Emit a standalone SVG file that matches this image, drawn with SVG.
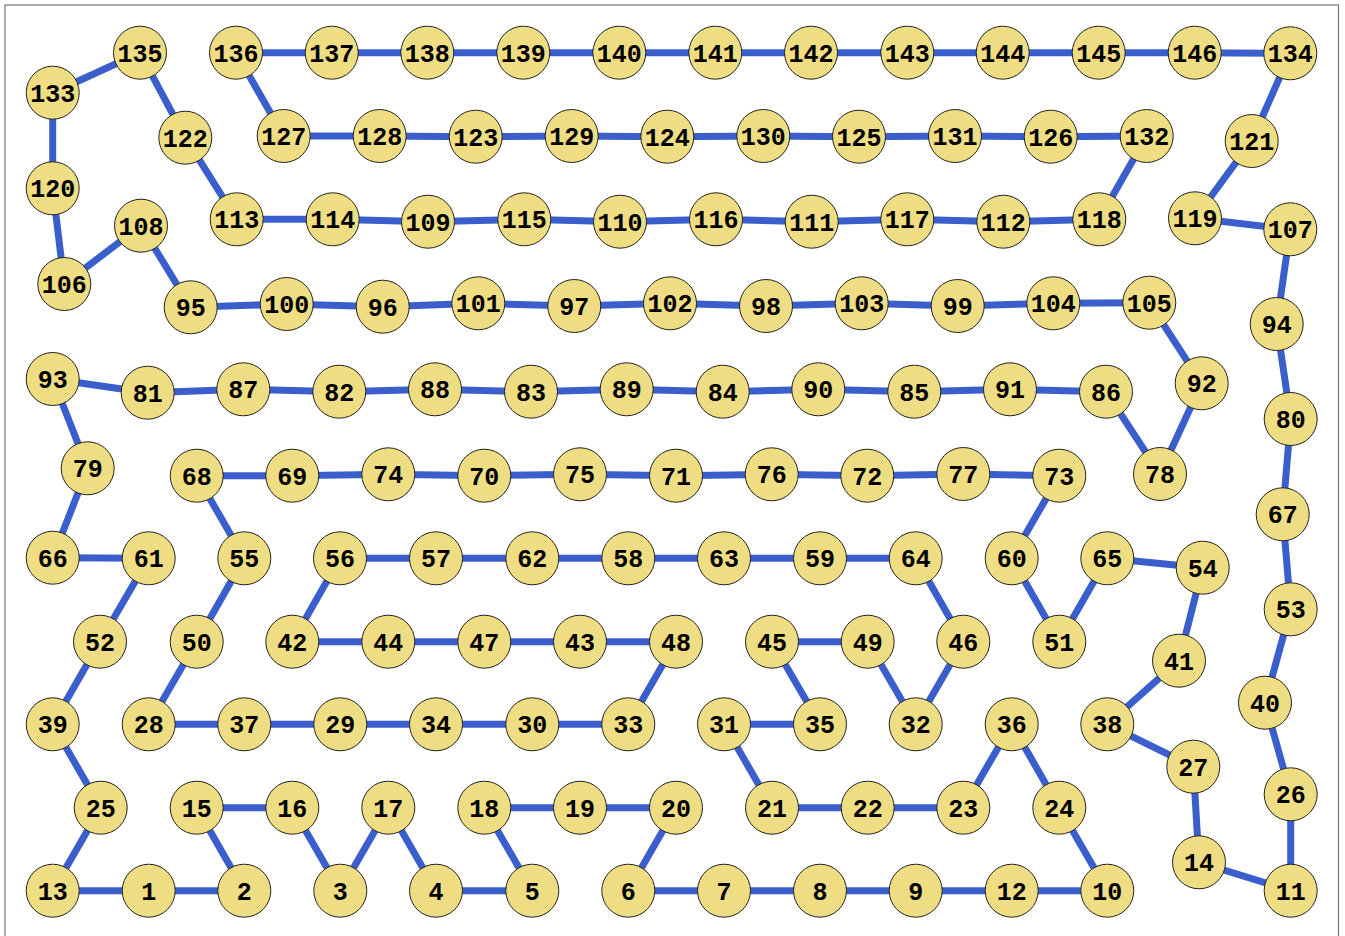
<svg xmlns="http://www.w3.org/2000/svg" width="1345" height="936" viewBox="0 0 1345 936">
<style>
.e line{stroke:#3a5fcd;stroke-width:7;stroke-linecap:butt}
.n circle{fill:#eedd82;stroke:#222;stroke-width:1}
.n text{font-family:"Liberation Mono","DejaVu Sans Mono",monospace;font-weight:bold;font-size:25px;fill:#000;text-anchor:middle;transform:translateY(1px)}
</style>
<rect x="0" y="0" width="1345" height="936" fill="#fff"/>
<rect x="5" y="5" width="1333.5" height="940" fill="none" stroke="#777" stroke-width="1.2"/>
<g id="connectors" class="e">
<line x1="236" y1="52.7" x2="331.7" y2="52.7"/>
<line x1="331.7" y1="52.7" x2="427.3" y2="52.7"/>
<line x1="427.3" y1="52.7" x2="523.3" y2="52.7"/>
<line x1="523.3" y1="52.7" x2="619.3" y2="52.7"/>
<line x1="619.3" y1="52.7" x2="715.3" y2="52.7"/>
<line x1="715.3" y1="52.7" x2="811" y2="52.7"/>
<line x1="811" y1="52.7" x2="907.3" y2="52.7"/>
<line x1="907.3" y1="52.7" x2="1002.7" y2="52.7"/>
<line x1="1002.7" y1="52.7" x2="1098.7" y2="52.7"/>
<line x1="1098.7" y1="52.7" x2="1194.7" y2="52.7"/>
<line x1="1194.7" y1="52.7" x2="1290.3" y2="53.3"/>
<line x1="1290.3" y1="53.3" x2="1251.7" y2="141"/>
<line x1="1251.7" y1="141" x2="1195" y2="218.3"/>
<line x1="1195" y1="218.3" x2="1290.3" y2="229.3"/>
<line x1="1290.3" y1="229.3" x2="1276.7" y2="324"/>
<line x1="1276.7" y1="324" x2="1290.7" y2="419"/>
<line x1="1290.7" y1="419" x2="1282.7" y2="514.3"/>
<line x1="1282.7" y1="514.3" x2="1290.7" y2="609.3"/>
<line x1="1290.7" y1="609.3" x2="1265" y2="702.7"/>
<line x1="1265" y1="702.7" x2="1290.7" y2="794.3"/>
<line x1="1290.7" y1="794.3" x2="1290.7" y2="890.7"/>
<line x1="1290.7" y1="890.7" x2="1199" y2="862.3"/>
<line x1="1199" y1="862.3" x2="1193.3" y2="766.7"/>
<line x1="1193.3" y1="766.7" x2="1107.3" y2="724.3"/>
<line x1="1107.3" y1="724.3" x2="1179" y2="660.7"/>
<line x1="1179" y1="660.7" x2="1202.7" y2="567.7"/>
<line x1="1202.7" y1="567.7" x2="1107.3" y2="558.3"/>
<line x1="1107.3" y1="558.3" x2="1059.3" y2="641.7"/>
<line x1="1059.3" y1="641.7" x2="1011.7" y2="558.3"/>
<line x1="1011.7" y1="558.3" x2="1059.3" y2="475.7"/>
<line x1="1059.3" y1="475.7" x2="963.3" y2="474"/>
<line x1="963.3" y1="474" x2="867.3" y2="475.7"/>
<line x1="867.3" y1="475.7" x2="771.7" y2="474.3"/>
<line x1="771.7" y1="474.3" x2="676" y2="475.7"/>
<line x1="676" y1="475.7" x2="580" y2="474.3"/>
<line x1="580" y1="474.3" x2="484.3" y2="475.7"/>
<line x1="484.3" y1="475.7" x2="388.3" y2="474.3"/>
<line x1="388.3" y1="474.3" x2="292.3" y2="475.7"/>
<line x1="292.3" y1="475.7" x2="196.7" y2="475.7"/>
<line x1="196.7" y1="475.7" x2="244.3" y2="558.3"/>
<line x1="244.3" y1="558.3" x2="196.7" y2="641.7"/>
<line x1="196.7" y1="641.7" x2="148.7" y2="724.3"/>
<line x1="148.7" y1="724.3" x2="244.3" y2="724.3"/>
<line x1="244.3" y1="724.3" x2="340.3" y2="724.3"/>
<line x1="340.3" y1="724.3" x2="436" y2="724.3"/>
<line x1="436" y1="724.3" x2="532.3" y2="724.3"/>
<line x1="532.3" y1="724.3" x2="628.3" y2="724.3"/>
<line x1="628.3" y1="724.3" x2="676" y2="641.7"/>
<line x1="676" y1="641.7" x2="580" y2="641.7"/>
<line x1="580" y1="641.7" x2="484.3" y2="641.7"/>
<line x1="484.3" y1="641.7" x2="388.3" y2="641.7"/>
<line x1="388.3" y1="641.7" x2="292.3" y2="641.7"/>
<line x1="292.3" y1="641.7" x2="340" y2="558.3"/>
<line x1="340" y1="558.3" x2="436" y2="558.3"/>
<line x1="436" y1="558.3" x2="532.3" y2="558.3"/>
<line x1="532.3" y1="558.3" x2="628.3" y2="558.3"/>
<line x1="628.3" y1="558.3" x2="724" y2="558.3"/>
<line x1="724" y1="558.3" x2="820" y2="558.3"/>
<line x1="820" y1="558.3" x2="915.7" y2="558.3"/>
<line x1="915.7" y1="558.3" x2="963.3" y2="641.7"/>
<line x1="963.3" y1="641.7" x2="915.7" y2="724.3"/>
<line x1="915.7" y1="724.3" x2="867.7" y2="641.7"/>
<line x1="867.7" y1="641.7" x2="772" y2="641.7"/>
<line x1="772" y1="641.7" x2="820" y2="724.3"/>
<line x1="820" y1="724.3" x2="724" y2="724.3"/>
<line x1="724" y1="724.3" x2="772" y2="807.7"/>
<line x1="772" y1="807.7" x2="867.7" y2="807.7"/>
<line x1="867.7" y1="807.7" x2="963.3" y2="807.7"/>
<line x1="963.3" y1="807.7" x2="1011.7" y2="724.3"/>
<line x1="1011.7" y1="724.3" x2="1059.3" y2="807.7"/>
<line x1="1059.3" y1="807.7" x2="1107.3" y2="890.7"/>
<line x1="1107.3" y1="890.7" x2="1011.7" y2="890.7"/>
<line x1="1011.7" y1="890.7" x2="915.7" y2="890.7"/>
<line x1="915.7" y1="890.7" x2="820" y2="890.7"/>
<line x1="820" y1="890.7" x2="724" y2="890.7"/>
<line x1="724" y1="890.7" x2="628.3" y2="890.7"/>
<line x1="628.3" y1="890.7" x2="676" y2="807.7"/>
<line x1="676" y1="807.7" x2="580" y2="807.7"/>
<line x1="580" y1="807.7" x2="484.3" y2="807.7"/>
<line x1="484.3" y1="807.7" x2="532.3" y2="890.7"/>
<line x1="532.3" y1="890.7" x2="436" y2="890.7"/>
<line x1="436" y1="890.7" x2="388.3" y2="807.7"/>
<line x1="388.3" y1="807.7" x2="340.3" y2="890.7"/>
<line x1="340.3" y1="890.7" x2="292.3" y2="807.7"/>
<line x1="292.3" y1="807.7" x2="196.7" y2="807.7"/>
<line x1="196.7" y1="807.7" x2="244.3" y2="890.7"/>
<line x1="244.3" y1="890.7" x2="148.7" y2="890.7"/>
<line x1="148.7" y1="890.7" x2="52.7" y2="890.7"/>
<line x1="52.7" y1="890.7" x2="100.7" y2="807.7"/>
<line x1="100.7" y1="807.7" x2="52.7" y2="724.3"/>
<line x1="52.7" y1="724.3" x2="100" y2="641.7"/>
<line x1="100" y1="641.7" x2="148.7" y2="558.3"/>
<line x1="148.7" y1="558.3" x2="52.7" y2="557.7"/>
<line x1="52.7" y1="557.7" x2="87.7" y2="468.3"/>
<line x1="87.7" y1="468.3" x2="52.7" y2="379"/>
<line x1="52.7" y1="379" x2="147.7" y2="392.7"/>
<line x1="147.7" y1="392.7" x2="243.3" y2="389.3"/>
<line x1="243.3" y1="389.3" x2="339.3" y2="391.7"/>
<line x1="339.3" y1="391.7" x2="435" y2="389.3"/>
<line x1="435" y1="389.3" x2="531" y2="391.7"/>
<line x1="531" y1="391.7" x2="626.7" y2="389.3"/>
<line x1="626.7" y1="389.3" x2="722.7" y2="391.7"/>
<line x1="722.7" y1="391.7" x2="818.3" y2="389.3"/>
<line x1="818.3" y1="389.3" x2="914.3" y2="391.7"/>
<line x1="914.3" y1="391.7" x2="1010" y2="389.3"/>
<line x1="1010" y1="389.3" x2="1106" y2="391.7"/>
<line x1="1106" y1="391.7" x2="1160" y2="474"/>
<line x1="1160" y1="474" x2="1201.7" y2="383.3"/>
<line x1="1201.7" y1="383.3" x2="1149.3" y2="302.7"/>
<line x1="1149.3" y1="302.7" x2="1053.3" y2="303.3"/>
<line x1="1053.3" y1="303.3" x2="957.7" y2="306"/>
<line x1="957.7" y1="306" x2="861.7" y2="303.3"/>
<line x1="861.7" y1="303.3" x2="766" y2="306"/>
<line x1="766" y1="306" x2="670" y2="303.3"/>
<line x1="670" y1="303.3" x2="574.3" y2="306"/>
<line x1="574.3" y1="306" x2="478.3" y2="303.3"/>
<line x1="478.3" y1="303.3" x2="382.7" y2="306.7"/>
<line x1="382.7" y1="306.7" x2="286.7" y2="304"/>
<line x1="286.7" y1="304" x2="190.7" y2="307.3"/>
<line x1="190.7" y1="307.3" x2="141" y2="225.7"/>
<line x1="141" y1="225.7" x2="64.3" y2="284"/>
<line x1="64.3" y1="284" x2="52.7" y2="188.3"/>
<line x1="52.7" y1="188.3" x2="52.7" y2="92.7"/>
<line x1="52.7" y1="92.7" x2="140" y2="52.7"/>
<line x1="140" y1="52.7" x2="185.3" y2="137.7"/>
<line x1="185.3" y1="137.7" x2="236.7" y2="219.3"/>
<line x1="236.7" y1="219.3" x2="332.7" y2="219.3"/>
<line x1="332.7" y1="219.3" x2="428" y2="221.7"/>
<line x1="428" y1="221.7" x2="524.3" y2="219.3"/>
<line x1="524.3" y1="219.3" x2="620" y2="221.7"/>
<line x1="620" y1="221.7" x2="716" y2="219.3"/>
<line x1="716" y1="219.3" x2="811.7" y2="221.7"/>
<line x1="811.7" y1="221.7" x2="907.3" y2="219.3"/>
<line x1="907.3" y1="219.3" x2="1003.3" y2="221.7"/>
<line x1="1003.3" y1="221.7" x2="1099.3" y2="219.3"/>
<line x1="1099.3" y1="219.3" x2="1146.7" y2="136"/>
<line x1="1146.7" y1="136" x2="1050.7" y2="136.7"/>
<line x1="1050.7" y1="136.7" x2="955" y2="136"/>
<line x1="955" y1="136" x2="859" y2="136.7"/>
<line x1="859" y1="136.7" x2="763.3" y2="136"/>
<line x1="763.3" y1="136" x2="667.3" y2="136.7"/>
<line x1="667.3" y1="136.7" x2="571.7" y2="136"/>
<line x1="571.7" y1="136" x2="475.7" y2="136.7"/>
<line x1="475.7" y1="136.7" x2="379.7" y2="136"/>
<line x1="379.7" y1="136" x2="283.7" y2="136"/>
<line x1="283.7" y1="136" x2="236" y2="52.7"/>
</g>
<g id="nodes" class="n">
<g id="n1"><circle cx="148.7" cy="890.7" r="26.5"/><text x="148.7" y="898.7">1</text></g>
<g id="n2"><circle cx="244.3" cy="890.7" r="26.5"/><text x="244.3" y="898.7">2</text></g>
<g id="n3"><circle cx="340.3" cy="890.7" r="26.5"/><text x="340.3" y="898.7">3</text></g>
<g id="n4"><circle cx="436" cy="890.7" r="26.5"/><text x="436" y="898.7">4</text></g>
<g id="n5"><circle cx="532.3" cy="890.7" r="26.5"/><text x="532.3" y="898.7">5</text></g>
<g id="n6"><circle cx="628.3" cy="890.7" r="26.5"/><text x="628.3" y="898.7">6</text></g>
<g id="n7"><circle cx="724" cy="890.7" r="26.5"/><text x="724" y="898.7">7</text></g>
<g id="n8"><circle cx="820" cy="890.7" r="26.5"/><text x="820" y="898.7">8</text></g>
<g id="n9"><circle cx="915.7" cy="890.7" r="26.5"/><text x="915.7" y="898.7">9</text></g>
<g id="n10"><circle cx="1107.3" cy="890.7" r="26.5"/><text x="1107.3" y="898.7">10</text></g>
<g id="n11"><circle cx="1290.7" cy="890.7" r="26.5"/><text x="1290.7" y="898.7">11</text></g>
<g id="n12"><circle cx="1011.7" cy="890.7" r="26.5"/><text x="1011.7" y="898.7">12</text></g>
<g id="n13"><circle cx="52.7" cy="890.7" r="26.5"/><text x="52.7" y="898.7">13</text></g>
<g id="n14"><circle cx="1199" cy="862.3" r="26.5"/><text x="1199" y="870.3">14</text></g>
<g id="n15"><circle cx="196.7" cy="807.7" r="26.5"/><text x="196.7" y="815.7">15</text></g>
<g id="n16"><circle cx="292.3" cy="807.7" r="26.5"/><text x="292.3" y="815.7">16</text></g>
<g id="n17"><circle cx="388.3" cy="807.7" r="26.5"/><text x="388.3" y="815.7">17</text></g>
<g id="n18"><circle cx="484.3" cy="807.7" r="26.5"/><text x="484.3" y="815.7">18</text></g>
<g id="n19"><circle cx="580" cy="807.7" r="26.5"/><text x="580" y="815.7">19</text></g>
<g id="n20"><circle cx="676" cy="807.7" r="26.5"/><text x="676" y="815.7">20</text></g>
<g id="n21"><circle cx="772" cy="807.7" r="26.5"/><text x="772" y="815.7">21</text></g>
<g id="n22"><circle cx="867.7" cy="807.7" r="26.5"/><text x="867.7" y="815.7">22</text></g>
<g id="n23"><circle cx="963.3" cy="807.7" r="26.5"/><text x="963.3" y="815.7">23</text></g>
<g id="n24"><circle cx="1059.3" cy="807.7" r="26.5"/><text x="1059.3" y="815.7">24</text></g>
<g id="n25"><circle cx="100.7" cy="807.7" r="26.5"/><text x="100.7" y="815.7">25</text></g>
<g id="n26"><circle cx="1290.7" cy="794.3" r="26.5"/><text x="1290.7" y="802.3">26</text></g>
<g id="n27"><circle cx="1193.3" cy="766.7" r="26.5"/><text x="1193.3" y="774.7">27</text></g>
<g id="n28"><circle cx="148.7" cy="724.3" r="26.5"/><text x="148.7" y="732.3">28</text></g>
<g id="n29"><circle cx="340.3" cy="724.3" r="26.5"/><text x="340.3" y="732.3">29</text></g>
<g id="n30"><circle cx="532.3" cy="724.3" r="26.5"/><text x="532.3" y="732.3">30</text></g>
<g id="n31"><circle cx="724" cy="724.3" r="26.5"/><text x="724" y="732.3">31</text></g>
<g id="n32"><circle cx="915.7" cy="724.3" r="26.5"/><text x="915.7" y="732.3">32</text></g>
<g id="n33"><circle cx="628.3" cy="724.3" r="26.5"/><text x="628.3" y="732.3">33</text></g>
<g id="n34"><circle cx="436" cy="724.3" r="26.5"/><text x="436" y="732.3">34</text></g>
<g id="n35"><circle cx="820" cy="724.3" r="26.5"/><text x="820" y="732.3">35</text></g>
<g id="n36"><circle cx="1011.7" cy="724.3" r="26.5"/><text x="1011.7" y="732.3">36</text></g>
<g id="n37"><circle cx="244.3" cy="724.3" r="26.5"/><text x="244.3" y="732.3">37</text></g>
<g id="n38"><circle cx="1107.3" cy="724.3" r="26.5"/><text x="1107.3" y="732.3">38</text></g>
<g id="n39"><circle cx="52.7" cy="724.3" r="26.5"/><text x="52.7" y="732.3">39</text></g>
<g id="n40"><circle cx="1265" cy="702.7" r="26.5"/><text x="1265" y="710.7">40</text></g>
<g id="n41"><circle cx="1179" cy="660.7" r="26.5"/><text x="1179" y="668.7">41</text></g>
<g id="n42"><circle cx="292.3" cy="641.7" r="26.5"/><text x="292.3" y="649.7">42</text></g>
<g id="n43"><circle cx="580" cy="641.7" r="26.5"/><text x="580" y="649.7">43</text></g>
<g id="n44"><circle cx="388.3" cy="641.7" r="26.5"/><text x="388.3" y="649.7">44</text></g>
<g id="n45"><circle cx="772" cy="641.7" r="26.5"/><text x="772" y="649.7">45</text></g>
<g id="n46"><circle cx="963.3" cy="641.7" r="26.5"/><text x="963.3" y="649.7">46</text></g>
<g id="n47"><circle cx="484.3" cy="641.7" r="26.5"/><text x="484.3" y="649.7">47</text></g>
<g id="n48"><circle cx="676" cy="641.7" r="26.5"/><text x="676" y="649.7">48</text></g>
<g id="n49"><circle cx="867.7" cy="641.7" r="26.5"/><text x="867.7" y="649.7">49</text></g>
<g id="n50"><circle cx="196.7" cy="641.7" r="26.5"/><text x="196.7" y="649.7">50</text></g>
<g id="n51"><circle cx="1059.3" cy="641.7" r="26.5"/><text x="1059.3" y="649.7">51</text></g>
<g id="n52"><circle cx="100" cy="641.7" r="26.5"/><text x="100" y="649.7">52</text></g>
<g id="n53"><circle cx="1290.7" cy="609.3" r="26.5"/><text x="1290.7" y="617.3">53</text></g>
<g id="n54"><circle cx="1202.7" cy="567.7" r="26.5"/><text x="1202.7" y="575.7">54</text></g>
<g id="n55"><circle cx="244.3" cy="558.3" r="26.5"/><text x="244.3" y="566.3">55</text></g>
<g id="n56"><circle cx="340" cy="558.3" r="26.5"/><text x="340" y="566.3">56</text></g>
<g id="n57"><circle cx="436" cy="558.3" r="26.5"/><text x="436" y="566.3">57</text></g>
<g id="n58"><circle cx="628.3" cy="558.3" r="26.5"/><text x="628.3" y="566.3">58</text></g>
<g id="n59"><circle cx="820" cy="558.3" r="26.5"/><text x="820" y="566.3">59</text></g>
<g id="n60"><circle cx="1011.7" cy="558.3" r="26.5"/><text x="1011.7" y="566.3">60</text></g>
<g id="n61"><circle cx="148.7" cy="558.3" r="26.5"/><text x="148.7" y="566.3">61</text></g>
<g id="n62"><circle cx="532.3" cy="558.3" r="26.5"/><text x="532.3" y="566.3">62</text></g>
<g id="n63"><circle cx="724" cy="558.3" r="26.5"/><text x="724" y="566.3">63</text></g>
<g id="n64"><circle cx="915.7" cy="558.3" r="26.5"/><text x="915.7" y="566.3">64</text></g>
<g id="n65"><circle cx="1107.3" cy="558.3" r="26.5"/><text x="1107.3" y="566.3">65</text></g>
<g id="n66"><circle cx="52.7" cy="557.7" r="26.5"/><text x="52.7" y="565.7">66</text></g>
<g id="n67"><circle cx="1282.7" cy="514.3" r="26.5"/><text x="1282.7" y="522.3">67</text></g>
<g id="n68"><circle cx="196.7" cy="475.7" r="26.5"/><text x="196.7" y="483.7">68</text></g>
<g id="n69"><circle cx="292.3" cy="475.7" r="26.5"/><text x="292.3" y="483.7">69</text></g>
<g id="n70"><circle cx="484.3" cy="475.7" r="26.5"/><text x="484.3" y="483.7">70</text></g>
<g id="n71"><circle cx="676" cy="475.7" r="26.5"/><text x="676" y="483.7">71</text></g>
<g id="n72"><circle cx="867.3" cy="475.7" r="26.5"/><text x="867.3" y="483.7">72</text></g>
<g id="n73"><circle cx="1059.3" cy="475.7" r="26.5"/><text x="1059.3" y="483.7">73</text></g>
<g id="n74"><circle cx="388.3" cy="474.3" r="26.5"/><text x="388.3" y="482.3">74</text></g>
<g id="n75"><circle cx="580" cy="474.3" r="26.5"/><text x="580" y="482.3">75</text></g>
<g id="n76"><circle cx="771.7" cy="474.3" r="26.5"/><text x="771.7" y="482.3">76</text></g>
<g id="n77"><circle cx="963.3" cy="474" r="26.5"/><text x="963.3" y="482">77</text></g>
<g id="n78"><circle cx="1160" cy="474" r="26.5"/><text x="1160" y="482">78</text></g>
<g id="n79"><circle cx="87.7" cy="468.3" r="26.5"/><text x="87.7" y="476.3">79</text></g>
<g id="n80"><circle cx="1290.7" cy="419" r="26.5"/><text x="1290.7" y="427">80</text></g>
<g id="n81"><circle cx="147.7" cy="392.7" r="26.5"/><text x="147.7" y="400.7">81</text></g>
<g id="n82"><circle cx="339.3" cy="391.7" r="26.5"/><text x="339.3" y="399.7">82</text></g>
<g id="n83"><circle cx="531" cy="391.7" r="26.5"/><text x="531" y="399.7">83</text></g>
<g id="n84"><circle cx="722.7" cy="391.7" r="26.5"/><text x="722.7" y="399.7">84</text></g>
<g id="n85"><circle cx="914.3" cy="391.7" r="26.5"/><text x="914.3" y="399.7">85</text></g>
<g id="n86"><circle cx="1106" cy="391.7" r="26.5"/><text x="1106" y="399.7">86</text></g>
<g id="n87"><circle cx="243.3" cy="389.3" r="26.5"/><text x="243.3" y="397.3">87</text></g>
<g id="n88"><circle cx="435" cy="389.3" r="26.5"/><text x="435" y="397.3">88</text></g>
<g id="n89"><circle cx="626.7" cy="389.3" r="26.5"/><text x="626.7" y="397.3">89</text></g>
<g id="n90"><circle cx="818.3" cy="389.3" r="26.5"/><text x="818.3" y="397.3">90</text></g>
<g id="n91"><circle cx="1010" cy="389.3" r="26.5"/><text x="1010" y="397.3">91</text></g>
<g id="n92"><circle cx="1201.7" cy="383.3" r="26.5"/><text x="1201.7" y="391.3">92</text></g>
<g id="n93"><circle cx="52.7" cy="379" r="26.5"/><text x="52.7" y="387">93</text></g>
<g id="n94"><circle cx="1276.7" cy="324" r="26.5"/><text x="1276.7" y="332">94</text></g>
<g id="n95"><circle cx="190.7" cy="307.3" r="26.5"/><text x="190.7" y="315.3">95</text></g>
<g id="n96"><circle cx="382.7" cy="306.7" r="26.5"/><text x="382.7" y="314.7">96</text></g>
<g id="n97"><circle cx="574.3" cy="306" r="26.5"/><text x="574.3" y="314">97</text></g>
<g id="n98"><circle cx="766" cy="306" r="26.5"/><text x="766" y="314">98</text></g>
<g id="n99"><circle cx="957.7" cy="306" r="26.5"/><text x="957.7" y="314">99</text></g>
<g id="n100"><circle cx="286.7" cy="304" r="26.5"/><text x="286.7" y="312">100</text></g>
<g id="n101"><circle cx="478.3" cy="303.3" r="26.5"/><text x="478.3" y="311.3">101</text></g>
<g id="n102"><circle cx="670" cy="303.3" r="26.5"/><text x="670" y="311.3">102</text></g>
<g id="n103"><circle cx="861.7" cy="303.3" r="26.5"/><text x="861.7" y="311.3">103</text></g>
<g id="n104"><circle cx="1053.3" cy="303.3" r="26.5"/><text x="1053.3" y="311.3">104</text></g>
<g id="n105"><circle cx="1149.3" cy="302.7" r="26.5"/><text x="1149.3" y="310.7">105</text></g>
<g id="n106"><circle cx="64.3" cy="284" r="26.5"/><text x="64.3" y="292">106</text></g>
<g id="n107"><circle cx="1290.3" cy="229.3" r="26.5"/><text x="1290.3" y="237.3">107</text></g>
<g id="n108"><circle cx="141" cy="225.7" r="26.5"/><text x="141" y="233.7">108</text></g>
<g id="n109"><circle cx="428" cy="221.7" r="26.5"/><text x="428" y="229.7">109</text></g>
<g id="n110"><circle cx="620" cy="221.7" r="26.5"/><text x="620" y="229.7">110</text></g>
<g id="n111"><circle cx="811.7" cy="221.7" r="26.5"/><text x="811.7" y="229.7">111</text></g>
<g id="n112"><circle cx="1003.3" cy="221.7" r="26.5"/><text x="1003.3" y="229.7">112</text></g>
<g id="n113"><circle cx="236.7" cy="219.3" r="26.5"/><text x="236.7" y="227.3">113</text></g>
<g id="n114"><circle cx="332.7" cy="219.3" r="26.5"/><text x="332.7" y="227.3">114</text></g>
<g id="n115"><circle cx="524.3" cy="219.3" r="26.5"/><text x="524.3" y="227.3">115</text></g>
<g id="n116"><circle cx="716" cy="219.3" r="26.5"/><text x="716" y="227.3">116</text></g>
<g id="n117"><circle cx="907.3" cy="219.3" r="26.5"/><text x="907.3" y="227.3">117</text></g>
<g id="n118"><circle cx="1099.3" cy="219.3" r="26.5"/><text x="1099.3" y="227.3">118</text></g>
<g id="n119"><circle cx="1195" cy="218.3" r="26.5"/><text x="1195" y="226.3">119</text></g>
<g id="n120"><circle cx="52.7" cy="188.3" r="26.5"/><text x="52.7" y="196.3">120</text></g>
<g id="n121"><circle cx="1251.7" cy="141" r="26.5"/><text x="1251.7" y="149">121</text></g>
<g id="n122"><circle cx="185.3" cy="137.7" r="26.5"/><text x="185.3" y="145.7">122</text></g>
<g id="n123"><circle cx="475.7" cy="136.7" r="26.5"/><text x="475.7" y="144.7">123</text></g>
<g id="n124"><circle cx="667.3" cy="136.7" r="26.5"/><text x="667.3" y="144.7">124</text></g>
<g id="n125"><circle cx="859" cy="136.7" r="26.5"/><text x="859" y="144.7">125</text></g>
<g id="n126"><circle cx="1050.7" cy="136.7" r="26.5"/><text x="1050.7" y="144.7">126</text></g>
<g id="n127"><circle cx="283.7" cy="136" r="26.5"/><text x="283.7" y="144">127</text></g>
<g id="n128"><circle cx="379.7" cy="136" r="26.5"/><text x="379.7" y="144">128</text></g>
<g id="n129"><circle cx="571.7" cy="136" r="26.5"/><text x="571.7" y="144">129</text></g>
<g id="n130"><circle cx="763.3" cy="136" r="26.5"/><text x="763.3" y="144">130</text></g>
<g id="n131"><circle cx="955" cy="136" r="26.5"/><text x="955" y="144">131</text></g>
<g id="n132"><circle cx="1146.7" cy="136" r="26.5"/><text x="1146.7" y="144">132</text></g>
<g id="n133"><circle cx="52.7" cy="92.7" r="26.5"/><text x="52.7" y="100.7">133</text></g>
<g id="n134"><circle cx="1290.3" cy="53.3" r="26.5"/><text x="1290.3" y="61.3">134</text></g>
<g id="n135"><circle cx="140" cy="52.7" r="26.5"/><text x="140" y="60.7">135</text></g>
<g id="n136"><circle cx="236" cy="52.7" r="26.5"/><text x="236" y="60.7">136</text></g>
<g id="n137"><circle cx="331.7" cy="52.7" r="26.5"/><text x="331.7" y="60.7">137</text></g>
<g id="n138"><circle cx="427.3" cy="52.7" r="26.5"/><text x="427.3" y="60.7">138</text></g>
<g id="n139"><circle cx="523.3" cy="52.7" r="26.5"/><text x="523.3" y="60.7">139</text></g>
<g id="n140"><circle cx="619.3" cy="52.7" r="26.5"/><text x="619.3" y="60.7">140</text></g>
<g id="n141"><circle cx="715.3" cy="52.7" r="26.5"/><text x="715.3" y="60.7">141</text></g>
<g id="n142"><circle cx="811" cy="52.7" r="26.5"/><text x="811" y="60.7">142</text></g>
<g id="n143"><circle cx="907.3" cy="52.7" r="26.5"/><text x="907.3" y="60.7">143</text></g>
<g id="n144"><circle cx="1002.7" cy="52.7" r="26.5"/><text x="1002.7" y="60.7">144</text></g>
<g id="n145"><circle cx="1098.7" cy="52.7" r="26.5"/><text x="1098.7" y="60.7">145</text></g>
<g id="n146"><circle cx="1194.7" cy="52.7" r="26.5"/><text x="1194.7" y="60.7">146</text></g>
</g>
</svg>
